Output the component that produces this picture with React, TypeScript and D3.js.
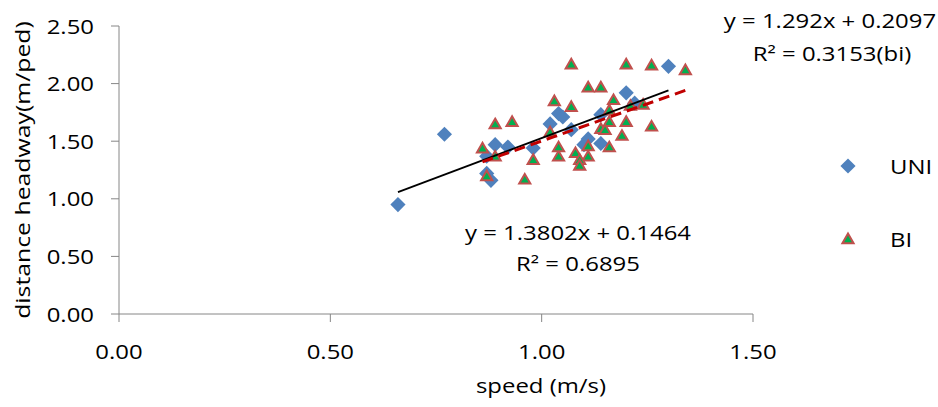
import React from 'react'
import * as d3 from 'd3'

// values: speed (m/s), distance headway (m/ped)
const uniSpeed = [0.66, 0.77, 0.87, 0.88, 0.87, 0.89, 0.92, 0.98, 1.02, 1.04, 1.05, 1.07, 1.10, 1.11, 1.14, 1.14, 1.20, 1.22, 1.30]
const uniHeadway = [0.95, 1.56, 1.22, 1.16, 1.37, 1.47, 1.45, 1.44, 1.65, 1.74, 1.71, 1.60, 1.47, 1.52, 1.73, 1.48, 1.92, 1.83, 2.15]

const biSpeed = [1.07, 1.20, 1.26, 1.34, 1.11, 1.14, 1.17, 1.03, 1.07, 1.21, 1.24, 1.16, 0.89, 0.93, 1.16, 1.20, 1.26, 1.14, 1.15, 1.19, 1.16, 1.11, 1.08, 1.11, 1.09, 1.09, 1.04, 1.04, 1.02, 0.86, 0.89, 0.98, 0.87, 0.96]
const biHeadway = [2.16, 2.16, 2.15, 2.11, 1.96, 1.96, 1.85, 1.84, 1.79, 1.80, 1.81, 1.76, 1.64, 1.66, 1.66, 1.66, 1.62, 1.60, 1.59, 1.54, 1.44, 1.45, 1.39, 1.36, 1.33, 1.28, 1.36, 1.44, 1.57, 1.43, 1.36, 1.33, 1.19, 1.16]

// trendline coefficients [slope, intercept]
const uniFit = [1.3802, 0.1464]
const biFit = [1.292, 0.2097]

const xTicks = [0, 0.5, 1.0, 1.5]
const yTicks = [0, 0.5, 1.0, 1.5, 2.0, 2.5]

const W = 938
const H = 407
const FONT = "'Open Sans', sans-serif"
const SX = 1.24 // text in the picture is stretched sideways

const Label = ({ x, y, anchor = 'middle', size = 19.3, children }: any) => (
  <g transform={`translate(${x},${y}) scale(${SX},1)`}>
    <text textAnchor={anchor} dominantBaseline="central" fontSize={size} fontFamily={FONT} fill="#000">
      {children}
    </text>
  </g>
)

export default function App() {
  const x = d3.scaleLinear().domain([0, 1.5]).range([119, 753])
  const y = d3.scaleLinear().domain([0, 2.5]).range([314, 26])

  const diamond = d3.symbol().type(d3.symbolSquare).size(115)()
  const triangle = d3.symbol().type(d3.symbolTriangle).size(54)()

  const line = d3.line<number[]>().x(d => x(d[0])).y(d => y(d[1]))
  const uniExt = d3.extent(uniSpeed) as [number, number]
  const biExt = d3.extent(biSpeed) as [number, number]
  const uniLine = uniExt.map(v => [v, uniFit[0] * v + uniFit[1]])
  const biLine = biExt.map(v => [v, biFit[0] * v + biFit[1]])

  const axisCol = '#868686'

  return (
    <svg width={W} height={H} style={{ position: 'absolute', left: 0, top: 0, background: '#fff' }}>
      {/* axes */}
      <line x1={x(0)} x2={x(0)} y1={y(0)} y2={y(2.5)} stroke={axisCol} strokeWidth={1} />
      <line x1={x(0)} x2={x(1.5)} y1={y(0)} y2={y(0)} stroke={axisCol} strokeWidth={1} />
      {yTicks.map(t => (
        <g key={'y' + t}>
          <line x1={x(0) - 8} x2={x(0)} y1={y(t)} y2={y(t)} stroke={axisCol} />
          <Label x={94} y={y(t)} anchor="end">{t.toFixed(2)}</Label>
        </g>
      ))}
      {xTicks.map(t => (
        <g key={'x' + t}>
          <line x1={x(t)} x2={x(t)} y1={y(0)} y2={y(0) + 8} stroke={axisCol} />
          <Label x={x(t)} y={351}>{t.toFixed(2)}</Label>
        </g>
      ))}
      <Label x={541} y={385}>speed (m/s)</Label>
      <g transform="translate(22,170) rotate(-90) scale(1.24,1)">
        <text textAnchor="middle" dominantBaseline="central" fontSize={20} fontFamily={FONT}>distance headway(m/ped)</text>
      </g>

      {/* points */}
      {uniSpeed.map((v, i) => (
        <path key={'u' + i} d={diamond} transform={`translate(${x(v)},${y(uniHeadway[i])}) rotate(45)`} fill="#4F81BD" />
      ))}
      {biSpeed.map((v, i) => (
        <path key={'b' + i} d={triangle} transform={`translate(${x(v)},${y(biHeadway[i])})`} fill="#00B050" stroke="#C0504D" strokeWidth={2} />
      ))}

      {/* trendlines */}
      <path d={line(uniLine) || ''} stroke="#000" strokeWidth={1.8} fill="none" />
      <path d={line(biLine) || ''} stroke="#C00000" strokeWidth={3} strokeDasharray="11,6" fill="none" />

      {/* equations */}
      <Label x={578} y={232}>{`y = ${uniFit[0]}x + ${uniFit[1]}`}</Label>
      <Label x={578} y={263}>R² = 0.6895</Label>
      <Label x={830} y={20}>{`y = ${biFit[0]}x + ${biFit[1]}`}</Label>
      <Label x={832} y={53}>R² = 0.3153(bi)</Label>

      {/* legend */}
      <path d={diamond} transform="translate(848,166) rotate(45)" fill="#4F81BD" />
      <Label x={890} y={166} anchor="start">UNI</Label>
      <path d={triangle} transform="translate(848,240)" fill="#00B050" stroke="#C0504D" strokeWidth={2} />
      <Label x={890} y={239} anchor="start">BI</Label>
    </svg>
  )
}
